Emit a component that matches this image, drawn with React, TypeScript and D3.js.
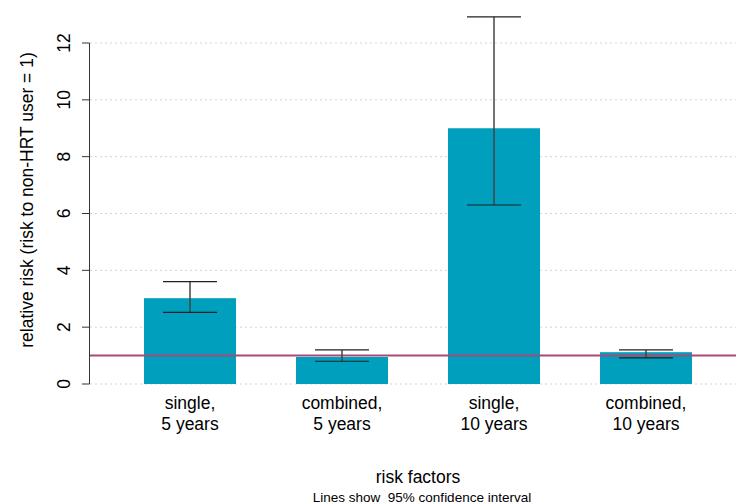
import React from "react";
import * as d3 from "d3";

const categories = [["single,", "5 years"], ["combined,", "5 years"], ["single,", "10 years"], ["combined,", "10 years"]];
const values = [3.02, 0.95, 9.0, 1.12];
const lower = [2.52, 0.8, 6.3, 0.92];
const upper = [3.6, 1.2, 12.92, 1.2];
const yTicks = [0, 2, 4, 6, 8, 10, 12];
const refValue = 1;

export default function App() {
  const W = 736, H = 504;
  const y = d3.scaleLinear().domain([0, 12]).range([384, 43]);
  const x = d3.scaleBand<number>().domain(d3.range(categories.length)).range([144, 692]).paddingInner(0.3947).paddingOuter(0);
  const font = "Liberation Sans, Arial, sans-serif";
  const fs = 17.5;
  return (
    <svg width={W} height={H} style={{ position: "absolute", left: 0, top: 0, background: "#fff" }}>
      {yTicks.map((t) => (
        <line key={"g" + t} x1={90} x2={736} y1={y(t)} y2={y(t)} stroke="#d3d3d3" strokeDasharray="2,3" strokeWidth={1} />
      ))}
      {values.map((v, i) => (
        <rect key={"b" + i} x={x(i)} width={x.bandwidth()} y={y(v)} height={y(0) - y(v)} fill="#009fbd" />
      ))}
      <line x1={90} x2={736} y1={y(refValue)} y2={y(refValue)} stroke="#a64b78" strokeWidth={2} />
      {values.map((v, i) => {
        const cx = (x(i) as number) + x.bandwidth() / 2;
        return (
          <g key={"e" + i} stroke="#222" strokeWidth={1.2}>
            <line x1={cx} x2={cx} y1={y(lower[i])} y2={y(upper[i])} stroke="#444" strokeWidth={1.5} />
            <line x1={cx - 27} x2={cx + 27} y1={y(upper[i])} y2={y(upper[i])} />
            <line x1={cx - 27} x2={cx + 27} y1={y(lower[i])} y2={y(lower[i])} />
          </g>
        );
      })}
      <line x1={89.5} x2={89.5} y1={y(0)} y2={y(12)} stroke="#333" strokeWidth={1} />
      {yTicks.map((t) => (
        <g key={"t" + t}>
          <line x1={82} x2={89.5} y1={y(t)} y2={y(t)} stroke="#333" strokeWidth={1} />
          <text transform={`translate(70,${y(t)}) rotate(-90)`} textAnchor="middle" fontFamily={font} fontSize={fs} fill="#000">{t}</text>
        </g>
      ))}
      {categories.map((c, i) => {
        const cx = (x(i) as number) + x.bandwidth() / 2;
        return (
          <text key={"c" + i} x={cx} textAnchor="middle" fontFamily={font} fontSize={fs} fill="#000">
            <tspan x={cx} y={409}>{c[0]}</tspan>
            <tspan x={cx} y={430}>{c[1]}</tspan>
          </text>
        );
      })}
      <text x={418} y={483} textAnchor="middle" fontFamily={font} fontSize={fs} fill="#000">risk factors</text>
      <text x={422} y={502} textAnchor="middle" fontFamily={font} fontSize={13.5} fill="#000" style={{ whiteSpace: "pre" }}>{"Lines show  95% confidence interval"}</text>
      <text transform={`translate(33,200) rotate(-90)`} textAnchor="middle" fontFamily={font} fontSize={fs} fill="#000">relative risk (risk to non-HRT user = 1)</text>
    </svg>
  );
}
